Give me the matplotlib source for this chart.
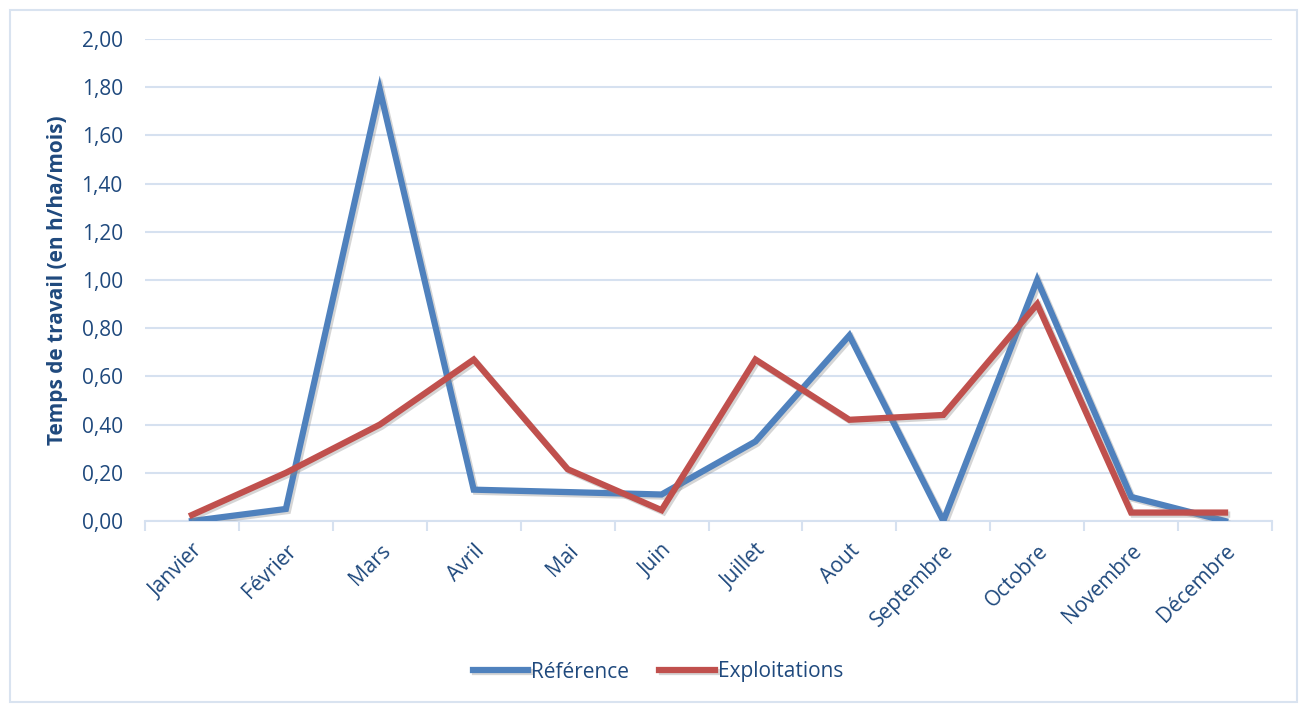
import matplotlib

matplotlib.use("Agg")

import matplotlib.patches as mpatches
import matplotlib.patheffects as pe
import matplotlib.pyplot as plt
import numpy as np
from matplotlib.ticker import FixedLocator, FuncFormatter

months = ["Janvier", "Février", "Mars", "Avril", "Mai", "Juin", "Juillet",
          "Aout", "Septembre", "Octobre", "Novembre", "Décembre"]
reference = [0.00, 0.05, 1.79, 0.13, 0.12, 0.11, 0.33, 0.77, 0.00, 1.00, 0.10, 0.00]
exploitations = [0.025, 0.20, 0.40, 0.67, 0.215, 0.045, 0.67, 0.42, 0.44, 0.90, 0.035, 0.035]

TEXT = "#1F497D"
GRID = "#D6E1F0"
BLUE = "#4F81BD"
RED = "#C0504D"

plt.rcParams["font.family"] = ["Open Sans", "DejaVu Sans"]

fig = plt.figure(figsize=(13.06, 7.06), dpi=100)
ax = fig.add_axes([145 / 1306, 1 - 521 / 706, (1272 - 145) / 1306, (521 - 39) / 706])

x = np.arange(len(months))
shadow = [pe.SimpleLineShadow(offset=(1.5, -1.5), shadow_color="#888888", alpha=0.35), pe.Normal()]
ax.plot(x, reference, color=BLUE, linewidth=4.5, solid_joinstyle="miter",
        label="Référence", path_effects=shadow, zorder=3)
ax.plot(x, exploitations, color=RED, linewidth=4.5, solid_joinstyle="miter",
        label="Exploitations", path_effects=shadow, zorder=4)

ax.set_xlim(-0.5, len(months) - 0.5)
ax.set_ylim(0, 2.0)
ax.set_yticks(np.arange(0, 2.01, 0.2))
ax.yaxis.set_major_formatter(FuncFormatter(lambda v, _: f"{v:.2f}".replace(".", ",")))
ax.set_xticks(x)
ax.set_xticklabels(months, rotation=45, ha="right", rotation_mode="anchor")
ax.xaxis.set_minor_locator(FixedLocator(np.arange(-0.5, len(months), 1.0)))

ax.grid(axis="y", color=GRID, linewidth=1.5, zorder=0)
for side in ("top", "right", "left"):
    ax.spines[side].set_visible(False)
ax.spines["bottom"].set_color(GRID)
ax.spines["bottom"].set_linewidth(1.5)

ax.tick_params(axis="y", length=0, pad=16, labelsize=15, labelcolor=TEXT)
ax.tick_params(axis="x", which="major", length=0, pad=14, labelsize=15, labelcolor=TEXT)
ax.tick_params(axis="x", which="minor", length=7, width=1.5, color=GRID)

ax.set_ylabel("Temps de travail (en h/ha/mois)", fontsize=15, fontweight="bold", color=TEXT)
ax.yaxis.set_label_coords(-0.068, 0.5)

fig.legend(loc="center", bbox_to_anchor=(658 / 1306, 1 - 672 / 706), ncol=2, frameon=False,
           fontsize=15, labelcolor=TEXT, handlelength=2.65, handletextpad=0.15,
           columnspacing=1.45)

border = mpatches.Rectangle((10 / 1306, 4 / 706), 1287 / 1306, 692 / 706,
                            transform=fig.transFigure, fill=False,
                            edgecolor="#D9E3F0", linewidth=1.5)
fig.patches.append(border)

fig.savefig("out.png", dpi=100)
plt.close(fig)
